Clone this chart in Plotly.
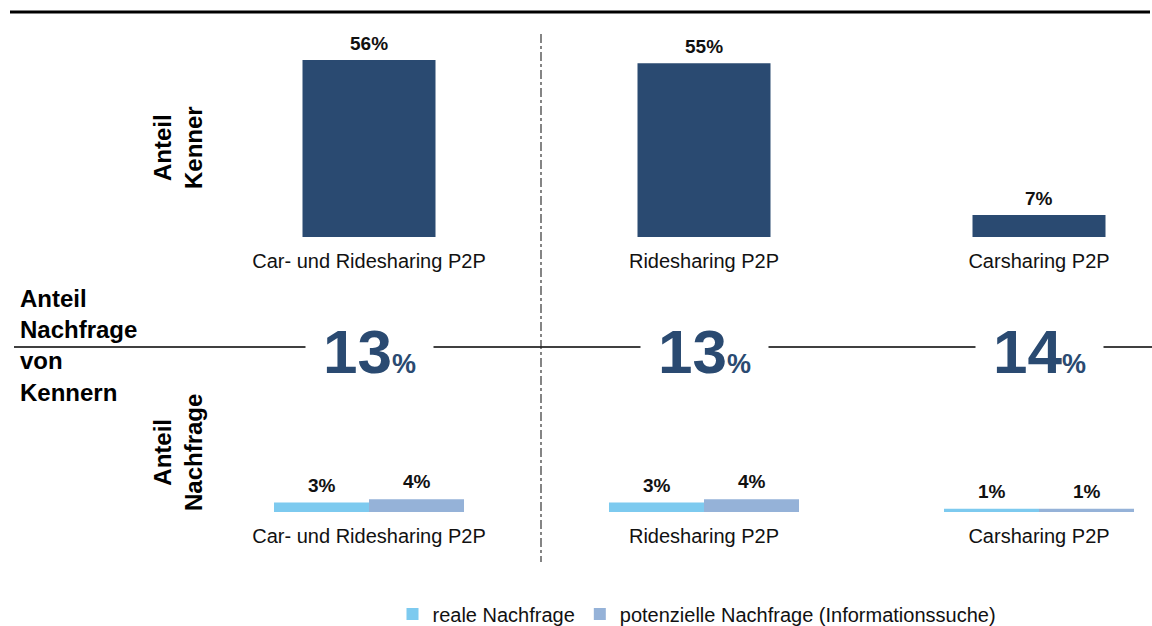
import plotly.graph_objects as go

# ---------------- data ----------------
kategorien = ["Car- und Ridesharing P2P", "Ridesharing P2P", "Carsharing P2P"]
anteil_kenner = [56, 55, 7]
reale_nachfrage = [3, 3, 1]
potenzielle_nachfrage = [4, 4, 1]
anteil_nachfrage_von_kennern = [13, 13, 14]

# ---------------- styles ----------------
NAVY = "#2A4A71"
LIGHT = "#7DCAEF"
GREYBLUE = "#95B2D8"
FONT = "Liberation Sans, Arial, sans-serif"

W, H = 1152, 626
xpos = list(range(len(kategorien)))
top_width = 0.397
bot_width = 0.2836


def py(px):
    return 1 - px / H


fig = go.Figure()

fig.add_trace(go.Bar(
    x=xpos, y=anteil_kenner, width=top_width, marker_color=NAVY,
    marker_line_width=0, showlegend=False, xaxis="x", yaxis="y",
    hoverinfo="skip"))

fig.add_trace(go.Bar(
    x=xpos, y=reale_nachfrage, width=bot_width, offset=-bot_width,
    marker_color=LIGHT, marker_line_width=0, name="reale Nachfrage",
    xaxis="x2", yaxis="y2", hoverinfo="skip"))

fig.add_trace(go.Bar(
    x=xpos, y=potenzielle_nachfrage, width=bot_width, offset=0,
    marker_color=GREYBLUE, marker_line_width=0,
    name="potenzielle Nachfrage (Informationssuche)",
    xaxis="x2", yaxis="y2", hoverinfo="skip"))

annotations = []
# value labels top
for i, v in enumerate(anteil_kenner):
    annotations.append(dict(x=xpos[i], y=v, xref="x", yref="y", text=f"<b>{v}%</b>",
                            showarrow=False, xanchor="center", yanchor="bottom", yshift=4,
                            font=dict(family=FONT, size=19, color="#111")))
# value labels bottom
for i in range(len(kategorien)):
    annotations.append(dict(x=xpos[i] - bot_width / 2, y=reale_nachfrage[i], xref="x2", yref="y2",
                            text=f"<b>{reale_nachfrage[i]}%</b>", showarrow=False,
                            xanchor="center", yanchor="bottom", yshift=5,
                            font=dict(family=FONT, size=19, color="#111")))
    annotations.append(dict(x=xpos[i] + bot_width / 2, y=potenzielle_nachfrage[i], xref="x2", yref="y2",
                            text=f"<b>{potenzielle_nachfrage[i]}%</b>", showarrow=False,
                            xanchor="center", yanchor="bottom", yshift=5,
                            font=dict(family=FONT, size=19, color="#111")))
# big numbers
for i, v in enumerate(anteil_nachfrage_von_kennern):
    annotations.append(dict(x=xpos[i], y=py(351), xref="x", yref="paper",
                            xanchor="center", yanchor="middle",
                            text=f"<b>{v}</b><b><span style='font-size:27px'>%</span></b>",
                            showarrow=False, bgcolor="white", width=125,
                            font=dict(family=FONT, size=62, color=NAVY)))
# side labels
annotations.append(dict(x=18 / W, y=py(345), xref="paper", yref="paper", xanchor="left",
                        yanchor="middle",
                        text="<b>Anteil<br>Nachfrage<br>von<br>Kennern</b>", align="left",
                        showarrow=False, font=dict(family=FONT, size=24, color="#000")))
annotations.append(dict(x=178 / W, y=py(148), xref="paper", yref="paper",
                        xanchor="center", yanchor="middle",
                        text="<b>Anteil<br>Kenner</b>", textangle=-90,
                        showarrow=False, font=dict(family=FONT, size=24, color="#000")))
annotations.append(dict(x=178 / W, y=py(453), xref="paper", yref="paper",
                        xanchor="center", yanchor="middle",
                        text="<b>Anteil<br>Nachfrage</b>", textangle=-90,
                        showarrow=False, font=dict(family=FONT, size=24, color="#000")))

shapes = [
    dict(type="line", xref="paper", yref="paper", x0=10 / W, x1=1150 / W, y0=py(12), y1=py(12),
         line=dict(color="#000", width=3)),
    dict(type="line", xref="paper", yref="paper", x0=14 / W, x1=1, y0=py(347), y1=py(347),
         line=dict(color="#000", width=1.5)),
    dict(type="line", xref="paper", yref="paper", x0=541 / W, x1=541 / W, y0=py(34), y1=py(562),
         line=dict(color="#222", width=1.1, dash="dashdot")),
]

xr = [-369 / 335, (W - 369) / 335]
axis_common = dict(range=xr, domain=[0, 1], tickmode="array", tickvals=xpos, ticktext=kategorien,
                   showgrid=False, zeroline=False, showline=False, ticks="",
                   tickfont=dict(family=FONT, size=20, color="#111"), ticklabelstandoff=10,
                   fixedrange=True)

fig.update_layout(
    width=W, height=H, margin=dict(l=0, r=0, t=0, b=0, autoexpand=False),
    paper_bgcolor="white", plot_bgcolor="rgba(0,0,0,0)",
    barmode="overlay",
    xaxis=dict(anchor="y", **axis_common),
    xaxis2=dict(anchor="y2", **axis_common),
    yaxis=dict(domain=[py(237), py(37)], range=[0, 200 / 3.16], visible=False, fixedrange=True),
    yaxis2=dict(domain=[py(512), py(462)], range=[0, 50 / 3.16], visible=False, fixedrange=True),
    legend=dict(orientation="h", x=697 / W, xanchor="center", y=py(614), yanchor="middle",
                font=dict(family=FONT, size=20, color="#111"), itemwidth=30,
                bgcolor="rgba(0,0,0,0)"),
    annotations=annotations, shapes=shapes,
    font=dict(family=FONT),
)

post = (
    "document.documentElement.style.margin='0';"
    "document.documentElement.style.overflow='hidden';"
    "document.body.style.margin='0';"
    "document.body.style.overflow='hidden';"
)
fig.write_html("out.html", config={"displayModeBar": False}, post_script=post)
